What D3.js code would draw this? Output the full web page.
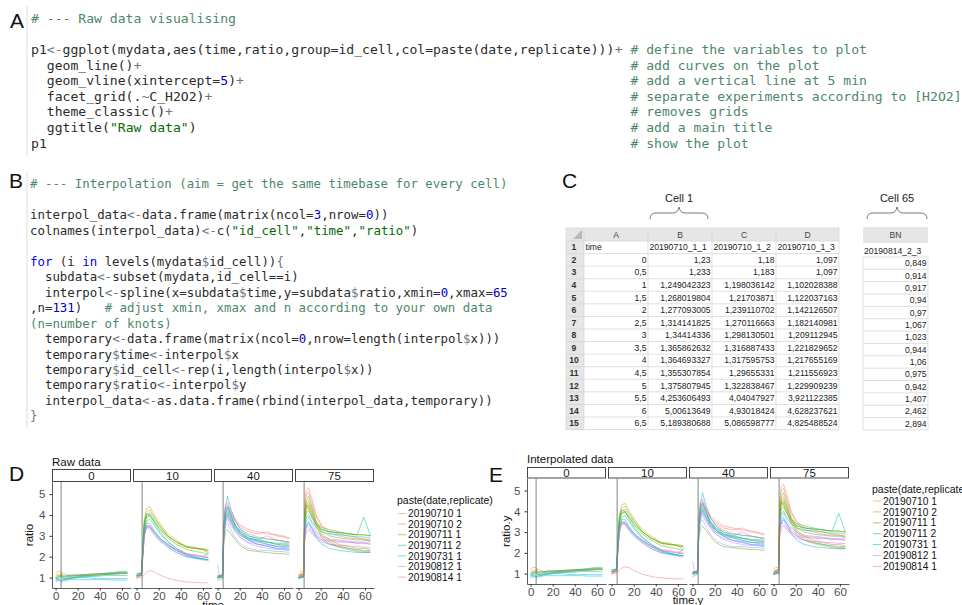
<!DOCTYPE html>
<html lang="en">
<head>
<meta charset="UTF-8">
<title>Raw and interpolated ratio data</title>
<script src="https://d3js.org/d3.v7.min.js"></script>
<style>
  body { margin: 0; background: #fff; }
  svg { display: block; }
</style>
</head>
<body>
<script>
// ---------- panel A / B : R code ----------
var codeA = [
  "# --- Raw data visualising",
  "",
  "p1<-ggplot(mydata,aes(time,ratio,group=id_cell,col=paste(date,replicate)))+",
  "  geom_line()+",
  "  geom_vline(xintercept=5)+",
  "  facet_grid(.~C_H2O2)+",
  "  theme_classic()+",
  '  ggtitle("Raw data")',
  "p1"
];
var commentsA = ["", "", "# define the variables to plot", "# add curves on the plot",
  "# add a vertical line at 5 min", "# separate experiments according to [H2O2]",
  "# removes grids", "# add a main title", "# show the plot"];

var codeB = [
  "# --- Interpolation (aim = get the same timebase for every cell)",
  "",
  "interpol_data<-data.frame(matrix(ncol=3,nrow=0))",
  'colnames(interpol_data)<-c("id_cell","time","ratio")',
  "",
  "for (i in levels(mydata$id_cell)){",
  "  subdata<-subset(mydata,id_cell==i)",
  "  interpol<-spline(x=subdata$time,y=subdata$ratio,xmin=0,xmax=65",
  ",n=131)   # adjust xmin, xmax and n according to your own data",
  "(n=number of knots)",
  "  temporary<-data.frame(matrix(ncol=0,nrow=length(interpol$x)))",
  "  temporary$time<-interpol$x",
  "  temporary$id_cell<-rep(i,length(interpol$x))",
  "  temporary$ratio<-interpol$y",
  "  interpol_data<-as.data.frame(rbind(interpol_data,temporary))",
  "}"
];
var wrappedCommentB = [9];   // wrapped tail of the comment on line 8

// ---------- panel C : spreadsheet ----------
var sheetLetters = ["A", "B", "C", "D"];
var sheetRow1 = ["time", "20190710_1_1", "20190710_1_2", "20190710_1_3"];
var sheetTime = ["0", "0,5", "1", "1,5", "2", "2,5", "3", "3,5", "4", "4,5", "5", "5,5", "6", "6,5"];
var cell1Rep1 = ["1,23", "1,233", "1,249042323", "1,268019804", "1,277093005", "1,314141825", "1,34414336",
  "1,365862632", "1,364693327", "1,355307854", "1,375807945", "4,253606493", "5,00613649", "5,189380688"];
var cell1Rep2 = ["1,18", "1,183", "1,198036142", "1,21703871", "1,239110702", "1,270116663", "1,298130501",
  "1,316887433", "1,317595753", "1,29655331", "1,322838467", "4,04047927", "4,93018424", "5,086598777"];
var cell1Rep3 = ["1,097", "1,097", "1,102028388", "1,122037163", "1,142126507", "1,182140981", "1,209112945",
  "1,221829652", "1,217655169", "1,211556923", "1,229909239", "3,921122385", "4,628237621", "4,825488524"];
var cell65Name = "20190814_2_3";
var cell65 = ["0,849", "0,914", "0,917", "0,94", "0,97", "1,067", "1,023", "0,944", "1,06", "0,975",
  "0,942", "1,407", "2,462", "2,894"];

// ---------- panels D / E : ratio curves ----------
var times = [0, 2, 4.5, 5.5, 7, 9, 12, 16, 21, 28, 36, 45, 53, 59, 65];
var facets = ["0", "10", "40", "75"];
var groupLabels = ["20190710 1", "20190710 2", "20190711 1", "20190711 2", "20190731 1", "20190812 1", "20190814 1"];
var xTicks = [0, 20, 40, 60];
var yTicks = [1, 2, 3, 4, 5];

var groups0 = [1, 1, 2, 2, 3, 4, 4, 0, 3, 4];
var ratio0 = [
  [1.20, 1.30, 1.30, 1.25, 1.20, 1.15, 1.10, 1.10, 1.10, 1.15, 1.15, 1.20, 1.22, 1.25, 1.25],
  [1.10, 1.15, 1.20, 1.15, 1.10, 1.05, 1.05, 1.10, 1.10, 1.10, 1.15, 1.15, 1.20, 1.20, 1.20],
  [1.00, 1.05, 1.10, 1.00, 0.95, 0.90, 0.95, 1.00, 1.05, 1.05, 1.10, 1.15, 1.18, 1.20, 1.20],
  [0.95, 1.00, 1.10, 1.20, 1.00, 0.95, 1.00, 1.00, 1.05, 1.10, 1.10, 1.15, 1.15, 1.18, 1.20],
  [0.90, 0.95, 1.00, 1.00, 0.95, 1.00, 1.05, 1.05, 1.10, 1.10, 1.15, 1.20, 1.25, 1.30, 1.30],
  [0.85, 0.90, 0.90, 0.85, 0.90, 0.95, 0.95, 1.00, 1.00, 1.00, 0.95, 0.95, 0.95, 0.95, 0.95],
  [0.80, 0.85, 0.85, 0.80, 0.85, 0.85, 0.90, 0.90, 0.90, 0.90, 0.90, 0.90, 0.88, 0.88, 0.88],
  [1.05, 1.10, 1.10, 1.05, 1.05, 1.05, 1.10, 1.10, 1.10, 1.15, 1.15, 1.20, 1.20, 1.20, 1.20],
  [1.00, 1.00, 1.05, 1.10, 1.05, 1.10, 1.10, 1.15, 1.15, 1.15, 1.20, 1.20, 1.22, 1.25, 1.25],
  [0.95, 0.90, 0.85, 0.85, 0.90, 0.90, 0.95, 0.95, 1.00, 1.05, 1.05, 1.10, 1.10, 1.10, 1.10]
];
var groups10 = [1, 1, 2, 2, 3, 3, 4, 5, 5, 6, 0, 0, 2, 4];
var ratio10 = [
  [1.10, 1.15, 1.20, 2.40, 3.80, 4.30, 4.40, 4.00, 3.60, 3.10, 2.80, 2.50, 2.40, 2.40, 2.35],
  [1.05, 1.10, 1.10, 2.20, 3.60, 4.10, 4.25, 3.90, 3.50, 3.00, 2.70, 2.45, 2.40, 2.35, 2.30],
  [1.10, 1.10, 1.15, 2.30, 3.70, 4.00, 4.10, 3.80, 3.45, 3.00, 2.70, 2.45, 2.40, 2.35, 2.30],
  [1.00, 1.05, 1.10, 2.10, 3.40, 3.90, 4.00, 3.70, 3.30, 2.90, 2.60, 2.35, 2.25, 2.20, 2.10],
  [1.15, 1.20, 1.20, 2.30, 3.60, 4.05, 4.00, 3.60, 3.20, 2.75, 2.40, 2.15, 2.00, 1.90, 1.85],
  [1.00, 1.10, 1.10, 2.00, 3.20, 3.70, 3.80, 3.50, 3.10, 2.70, 2.40, 2.10, 1.95, 1.90, 2.20],
  [1.10, 1.15, 1.20, 2.00, 3.10, 3.45, 3.40, 3.10, 2.80, 2.50, 2.20, 2.00, 1.95, 1.90, 1.85],
  [1.15, 1.20, 1.20, 2.00, 3.00, 3.40, 3.35, 3.05, 2.75, 2.45, 2.20, 2.00, 1.90, 1.85, 1.80],
  [1.05, 1.10, 1.15, 1.90, 3.00, 3.50, 3.45, 3.15, 2.85, 2.55, 2.30, 2.10, 2.05, 2.00, 1.95],
  [1.10, 1.10, 1.15, 1.90, 3.00, 3.40, 3.45, 3.20, 2.90, 2.60, 2.35, 2.15, 2.10, 2.05, 2.00],
  [1.00, 1.05, 1.10, 2.00, 3.10, 3.50, 3.50, 3.20, 2.90, 2.55, 2.30, 2.10, 2.05, 2.00, 1.95],
  [0.95, 1.00, 1.00, 1.05, 1.15, 1.25, 1.33, 1.28, 1.12, 0.97, 0.86, 0.79, 0.76, 0.75, 0.75],
  [1.10, 1.10, 1.20, 2.20, 3.50, 3.90, 3.95, 3.70, 3.35, 3.00, 2.70, 2.50, 2.45, 2.35, 2.20],
  [1.20, 1.20, 1.25, 2.10, 3.30, 3.60, 3.60, 3.25, 2.90, 2.60, 2.30, 2.05, 1.95, 1.90, 1.85]
];
var groups40 = [0, 0, 4, 4, 5, 5, 5, 5, 5, 2, 2, 3, 3, 4, 0, 5];
var ratio40 = [
  [1.00, 1.05, 1.10, 3.50, 4.50, 4.60, 4.20, 3.80, 3.50, 3.30, 3.20, 3.10, 3.05, 3.00, 2.90],
  [1.10, 1.10, 1.15, 3.30, 4.30, 4.40, 4.10, 3.70, 3.40, 3.20, 3.10, 3.20, 3.00, 2.95, 2.85],
  [1.00, 1.00, 1.05, 3.20, 4.30, 4.90, 4.30, 3.70, 3.30, 3.00, 2.85, 2.70, 2.60, 2.55, 2.50],
  [0.95, 1.00, 1.00, 3.00, 4.00, 4.30, 4.00, 3.50, 3.10, 2.80, 2.60, 2.50, 2.40, 2.40, 2.35],
  [1.60, 1.00, 1.05, 3.10, 4.10, 4.40, 4.00, 3.50, 3.10, 2.80, 2.60, 2.50, 2.40, 2.35, 2.30],
  [1.05, 1.05, 1.10, 3.00, 3.90, 4.10, 3.80, 3.40, 3.00, 2.80, 2.70, 2.60, 2.50, 2.50, 2.45],
  [1.00, 1.05, 1.10, 2.80, 3.60, 3.80, 3.50, 3.20, 2.90, 2.70, 2.60, 2.55, 2.50, 2.50, 2.50],
  [1.10, 1.10, 1.15, 2.90, 3.70, 3.90, 3.60, 3.30, 3.10, 2.90, 2.80, 3.00, 2.80, 2.75, 2.70],
  [1.00, 1.00, 1.05, 2.70, 3.50, 3.60, 3.30, 2.90, 2.60, 2.40, 2.30, 2.30, 2.25, 2.25, 2.20],
  [0.85, 0.90, 0.95, 2.50, 3.20, 3.30, 3.10, 2.80, 2.50, 2.30, 2.25, 2.20, 2.15, 2.15, 2.10],
  [1.00, 1.05, 1.05, 3.00, 3.90, 4.10, 3.80, 3.40, 3.10, 2.90, 2.80, 2.70, 2.60, 2.60, 2.55],
  [1.05, 1.10, 1.10, 3.10, 4.00, 4.20, 3.90, 3.50, 3.20, 3.00, 2.90, 2.85, 2.80, 2.75, 2.70],
  [1.00, 1.00, 1.05, 3.00, 3.80, 4.00, 3.70, 3.30, 3.00, 2.85, 2.75, 2.70, 2.65, 2.65, 2.60],
  [1.05, 1.05, 1.10, 3.30, 4.20, 4.40, 4.00, 3.50, 3.20, 2.90, 2.75, 2.60, 2.50, 2.45, 2.40],
  [1.10, 1.10, 1.15, 3.40, 4.40, 4.50, 4.10, 3.70, 3.30, 3.10, 2.95, 2.85, 2.80, 2.75, 2.65],
  [0.95, 1.00, 1.05, 2.90, 3.70, 4.00, 3.70, 3.20, 2.90, 2.65, 2.50, 2.40, 2.35, 2.35, 2.30]
];
var groups75 = [0, 0, 1, 1, 2, 2, 3, 3, 4, 4, 6, 6, 5, 5, 2, 1];
var ratio75 = [
  [1.20, 1.30, 1.30, 4.50, 5.20, 5.30, 4.80, 4.00, 3.50, 3.20, 3.10, 3.00, 2.90, 2.85, 2.80],
  [1.10, 1.20, 1.20, 4.20, 5.00, 5.10, 4.60, 3.90, 3.40, 3.10, 3.00, 2.90, 2.85, 2.85, 2.80],
  [1.10, 1.15, 1.20, 3.80, 4.50, 4.60, 4.20, 3.50, 3.00, 2.70, 2.50, 2.40, 2.30, 2.25, 2.25],
  [1.00, 1.10, 1.10, 3.50, 4.20, 4.40, 4.00, 3.40, 2.90, 2.60, 2.45, 2.35, 2.25, 2.20, 2.20],
  [1.05, 1.10, 1.15, 3.90, 4.70, 4.90, 4.40, 3.70, 3.20, 3.00, 2.90, 2.85, 2.80, 2.80, 2.75],
  [1.00, 1.05, 1.10, 3.60, 4.40, 4.50, 4.10, 3.60, 3.30, 3.20, 3.15, 3.10, 3.05, 3.05, 3.00],
  [1.00, 1.00, 1.05, 3.50, 4.10, 4.20, 3.90, 3.50, 3.30, 3.20, 3.15, 3.10, 3.05, 3.90, 3.00],
  [0.95, 1.00, 1.05, 3.30, 3.90, 4.00, 3.70, 3.40, 3.20, 3.10, 3.05, 3.00, 2.95, 2.95, 2.90],
  [1.00, 1.00, 1.00, 3.00, 3.50, 3.60, 3.30, 2.90, 2.60, 2.40, 2.30, 2.25, 2.20, 2.20, 2.20],
  [0.95, 1.00, 1.05, 3.10, 3.60, 3.70, 3.40, 3.00, 2.80, 2.60, 2.50, 2.40, 2.35, 2.30, 2.30],
  [1.00, 1.05, 1.10, 2.70, 3.20, 3.30, 3.10, 2.90, 2.70, 2.60, 2.55, 2.50, 2.50, 2.45, 2.45],
  [1.05, 1.10, 1.10, 3.00, 3.50, 3.40, 3.20, 3.00, 2.80, 2.75, 2.70, 2.70, 2.65, 2.65, 2.60],
  [0.95, 1.00, 1.00, 2.90, 3.40, 3.60, 3.40, 3.10, 2.90, 2.80, 2.75, 2.70, 2.65, 2.65, 2.60],
  [1.00, 1.00, 1.05, 3.10, 3.70, 3.90, 3.60, 3.20, 3.00, 2.85, 2.80, 2.75, 2.70, 2.70, 2.70],
  [1.00, 1.05, 1.05, 4.00, 4.50, 4.30, 3.90, 3.60, 3.40, 3.30, 3.20, 3.10, 3.05, 3.05, 3.00],
  [1.10, 1.15, 1.20, 3.90, 4.60, 4.70, 4.30, 3.60, 3.10, 2.80, 2.60, 2.50, 2.40, 2.40, 2.35]
];
var facetRatios = [ratio0, ratio10, ratio40, ratio75];
var facetGroups = [groups0, groups10, groups40, groups75];

var palette = ["#F8766D", "#C49A00", "#53B400", "#00C094", "#00B6EB", "#A58AFF", "#FB61D7"];
var sans = "'Liberation Sans', Arial, sans-serif";

var svg = d3.select("body").append("svg").attr("width", 962).attr("height", 605);

function letter(t, x, y) {
  svg.append("text").attr("x", x).attr("y", y).text(t)
    .attr("font-family", sans).attr("font-size", 21).attr("fill", "#111");
}

// ---------- code blocks ----------
var codeColors = { com: "#4C886B", str: "#036A07", op: "#687687", num: "#0000CD", kw: "#0000FF", txt: "#2b2b2b" };

function tokenize(line, allComment) {
  if (allComment) return [{ kind: "com", text: line, start: 0 }];
  var re = /(#.*$)|("[^"]*")|(<-|[+~${}])|(\b\d+\b)|\b(for|in)\b|(\s+)|([\s\S])/g;
  var out = [], m;
  while ((m = re.exec(line))) {
    var kind = m[1] ? "com" : m[2] ? "str" : m[3] ? "op" : m[4] ? "num" : m[5] ? "kw" : m[6] ? "sp" : "txt";
    if (kind === "sp") continue;
    var last = out[out.length - 1];
    if (kind === "txt" && last && last.kind === "txt" && last.end === m.index) {
      last.text += m[0];
      last.end += m[0].length;
    } else {
      out.push({ kind: kind, text: m[0], start: m.index, end: m.index + m[0].length });
    }
  }
  return out;
}

function drawCode(lines, x0, yc0, dy, fs, wrapped) {
  var cw = fs * 0.6021;
  var g = svg.append("g").attr("font-family", "'DejaVu Sans Mono', monospace").attr("font-size", fs);
  lines.forEach(function (line, i) {
    var t = g.append("text").attr("y", yc0 + i * dy + fs * 0.36);
    tokenize(line, wrapped.indexOf(i) >= 0).forEach(function (tok) {
      t.append("tspan").attr("x", x0 + tok.start * cw).attr("fill", codeColors[tok.kind]).text(tok.text);
    });
  });
}

var linesA = codeA.map(function (c, i) { return commentsA[i] ? c.padEnd(76) + commentsA[i] : c; });
svg.append("line").attr("x1", 27).attr("x2", 27).attr("y1", 6).attr("y2", 156).attr("stroke", "#ddd");
svg.append("line").attr("x1", 27).attr("x2", 27).attr("y1", 172).attr("y2", 428).attr("stroke", "#ddd");
drawCode(linesA, 31, 18, 15.6, 13.1, []);
drawCode(codeB, 30, 184, 15.46, 12.4, wrappedCommentB);
letter("A", 10, 28);
letter("B", 9, 188);
letter("C", 562, 188);
letter("D", 9, 481);
letter("E", 489, 482);

// ---------- spreadsheet ----------
(function () {
  var g = svg.append("g").attr("font-family", sans).attr("font-size", 8.6).attr("fill", "#222");
  var colX = [566, 584, 648, 712, 776, 839];
  var hTop = 228, top = 241, rowH = 12.57, nRows = 15;
  var bottom = top + nRows * rowH;
  var grid = "#d2d2d2";
  g.append("rect").attr("x", colX[0]).attr("y", hTop).attr("width", colX[5] - colX[0]).attr("height", top - hTop).attr("fill", "#e6e6e6");
  g.append("rect").attr("x", colX[0]).attr("y", top).attr("width", colX[1] - colX[0]).attr("height", bottom - top).attr("fill", "#e6e6e6");
  g.append("path").attr("fill", "#b8b8b8")
    .attr("d", "M" + (colX[1] - 2) + "," + (hTop + 2) + "V" + (top - 2) + "H" + (colX[1] - 11) + "Z");
  colX.forEach(function (x) {
    g.append("line").attr("x1", x).attr("x2", x).attr("y1", hTop).attr("y2", bottom).attr("stroke", grid).attr("stroke-width", 0.7);
  });
  d3.range(nRows + 2).forEach(function (k) {
    var y = k === 0 ? hTop : top + (k - 1) * rowH;
    g.append("line").attr("x1", colX[0]).attr("x2", colX[5]).attr("y1", y).attr("y2", y).attr("stroke", grid).attr("stroke-width", 0.7);
  });
  sheetLetters.forEach(function (l, j) {
    g.append("text").attr("x", (colX[j + 1] + colX[j + 2]) / 2).attr("y", hTop + 9.5).attr("text-anchor", "middle").attr("fill", "#444").text(l);
  });
  d3.range(1, nRows + 1).forEach(function (r) {
    g.append("text").attr("x", (colX[0] + colX[1]) / 2 - 1).attr("y", top + (r - 0.5) * rowH + 3).attr("text-anchor", "middle")
      .attr("font-weight", "bold").attr("fill", "#333").text(r);
  });
  sheetRow1.forEach(function (s, j) {
    g.append("text").attr("x", colX[j + 1] + 1.5).attr("y", top + 0.5 * rowH + 3).text(s);
  });
  [sheetTime, cell1Rep1, cell1Rep2, cell1Rep3].forEach(function (col, j) {
    col.forEach(function (v, k) {
      g.append("text").attr("x", colX[j + 2] - 1.5).attr("y", top + (k + 1.5) * rowH + 3).attr("text-anchor", "end").text(v);
    });
  });

  // detached column BN (cell 65)
  var bx0 = 863, bx1 = 928, bhTop = 227, bhBot = 243, bTop = 257, bRow = 12.35;
  var bBottom = bTop + cell65.length * bRow;
  g.append("rect").attr("x", bx0).attr("y", bhTop).attr("width", bx1 - bx0).attr("height", bhBot - bhTop).attr("fill", "#e6e6e6");
  g.append("text").attr("x", (bx0 + bx1) / 2).attr("y", bhTop + 11).attr("text-anchor", "middle").attr("fill", "#444").text("BN");
  g.append("text").attr("x", bx0 + 1).attr("y", bhBot + 10.5).text(cell65Name);
  [bx0, bx1].forEach(function (x) {
    g.append("line").attr("x1", x).attr("x2", x).attr("y1", bTop).attr("y2", bBottom).attr("stroke", grid).attr("stroke-width", 0.7);
  });
  d3.range(cell65.length + 1).forEach(function (k) {
    var y = bTop + k * bRow;
    g.append("line").attr("x1", bx0).attr("x2", bx1).attr("y1", y).attr("y2", y).attr("stroke", grid).attr("stroke-width", 0.7);
  });
  cell65.forEach(function (v, k) {
    g.append("text").attr("x", bx1 - 1.5).attr("y", bTop + (k + 0.5) * bRow + 3).attr("text-anchor", "end").text(v);
  });

  // braces + labels
  function brace(x0, x1, label) {
    var xm = (x0 + x1) / 2, yb = 219, yf = 213, yt = 207;
    var p = d3.path();
    p.moveTo(x0, yb);
    p.quadraticCurveTo(x0, yf, x0 + 6, yf);
    p.lineTo(xm - 6, yf);
    p.quadraticCurveTo(xm - 1, yf, xm, yt);
    p.quadraticCurveTo(xm + 1, yf, xm + 6, yf);
    p.lineTo(x1 - 6, yf);
    p.quadraticCurveTo(x1, yf, x1, yb);
    svg.append("path").attr("d", p.toString()).attr("fill", "none").attr("stroke", "#555").attr("stroke-width", 0.8);
    svg.append("text").attr("x", xm).attr("y", 202).attr("text-anchor", "middle")
      .attr("font-family", sans).attr("font-size", 11).attr("fill", "#222").text(label);
  }
  brace(650, 708, "Cell 1");
  brace(867, 927, "Cell 65");
})();

// ---------- faceted line plots ----------
function facetPlot(cfg) {
  var g = svg.append("g").attr("font-family", sans);
  var w = 79, step = 81;
  var y = d3.scaleLinear().domain([0.5, 5.58]).range([cfg.bottom, cfg.top]);

  facets.forEach(function (f, i) {
    var x0 = cfg.left + i * step;
    var x = d3.scaleLinear().domain([-3.25, 68.25]).range([x0, x0 + w]);
    var line = d3.line().x(function (d, k) { return x(times[k]); }).y(function (d) { return y(d); });

    g.append("rect").attr("x", x0 + 0.5).attr("y", cfg.stripTop + 0.5).attr("width", w - 1)
      .attr("height", cfg.top - cfg.stripTop - 1).attr("fill", "#fff").attr("stroke", "#333").attr("stroke-width", 0.9);
    g.append("text").attr("x", x0 + w / 2).attr("y", (cfg.stripTop + cfg.top) / 2 + 4).attr("text-anchor", "middle")
      .attr("font-size", 11.5).attr("fill", "#1a1a1a").text(f);

    g.append("g").selectAll("path").data(facetRatios[i]).enter().append("path")
      .attr("d", line).attr("fill", "none")
      .attr("stroke", function (d, k) { return palette[facetGroups[i][k]]; })
      .attr("stroke-width", 0.7).attr("stroke-opacity", 0.7);

    g.append("line").attr("x1", x(5)).attr("x2", x(5)).attr("y1", cfg.top).attr("y2", cfg.bottom)
      .attr("stroke", "#777").attr("stroke-width", 0.9);

    var ax = g.append("g").attr("transform", "translate(0," + cfg.bottom + ")")
      .call(d3.axisBottom(x).tickValues(xTicks).tickFormat(d3.format("d")).tickSize(2.5).tickSizeOuter(0).tickPadding(1.5));
    ax.selectAll("text").attr("font-size", 11.5).attr("fill", "#4d4d4d").attr("font-family", sans);
    ax.selectAll("line").attr("stroke", "#333");
    ax.select(".domain").attr("stroke", "#333").attr("stroke-width", 0.8);
  });

  var ay = g.append("g").attr("transform", "translate(" + cfg.left + ",0)")
    .call(d3.axisLeft(y).tickValues(yTicks).tickFormat(d3.format("d")).tickSize(2.5).tickSizeOuter(0).tickPadding(4));
  ay.selectAll("text").attr("font-size", 11.5).attr("fill", "#4d4d4d").attr("font-family", sans);
  ay.selectAll("line").attr("stroke", "#333");
  ay.select(".domain").attr("stroke", "#333").attr("stroke-width", 0.8);

  g.append("text").attr("x", cfg.left).attr("y", cfg.titleY).attr("font-size", 11.5).attr("fill", "#111").text(cfg.title);
  g.append("text").attr("transform", "translate(" + cfg.yLabelX + "," + (cfg.top + cfg.bottom) / 2 + ") rotate(-90)")
    .attr("text-anchor", "middle").attr("font-size", 11.5).attr("fill", "#111").text(cfg.yLabel);
  g.append("text").attr("x", cfg.left + (4 * step - 2) / 2).attr("y", cfg.xLabelY).attr("text-anchor", "middle")
    .attr("font-size", 11.5).attr("fill", "#111").text(cfg.xLabel);

  // legend
  var lg = g.append("g");
  lg.append("text").attr("x", cfg.legX).attr("y", cfg.legTitleY).attr("font-size", 10.5).attr("fill", "#111").text("paste(date,replicate)");
  groupLabels.forEach(function (lab, k) {
    var yc = cfg.legY0 + k * cfg.legDy;
    lg.append("line").attr("x1", cfg.legX + 1).attr("x2", cfg.legX + 9).attr("y1", yc).attr("y2", yc)
      .attr("stroke", palette[k]).attr("stroke-width", 0.8).attr("stroke-opacity", 0.7);
    lg.append("text").attr("x", cfg.legX + 11).attr("y", yc + 3.6).attr("font-size", 10.2).attr("fill", "#111").text(lab);
  });
}

facetPlot({ left: 52, stripTop: 469, top: 482, bottom: 588, title: "Raw data", titleY: 466,
  yLabel: "ratio", yLabelX: 33, xLabel: "time", xLabelY: 608.5,
  legX: 397, legTitleY: 504, legY0: 513.5, legDy: 10.6 });
facetPlot({ left: 527, stripTop: 467, top: 478.5, bottom: 584, title: "Interpolated data", titleY: 463,
  yLabel: "ratio.y", yLabelX: 510, xLabel: "time.y", xLabelY: 604,
  legX: 872, legTitleY: 493, legY0: 501, legDy: 10.9 });
</script>
</body>
</html>
